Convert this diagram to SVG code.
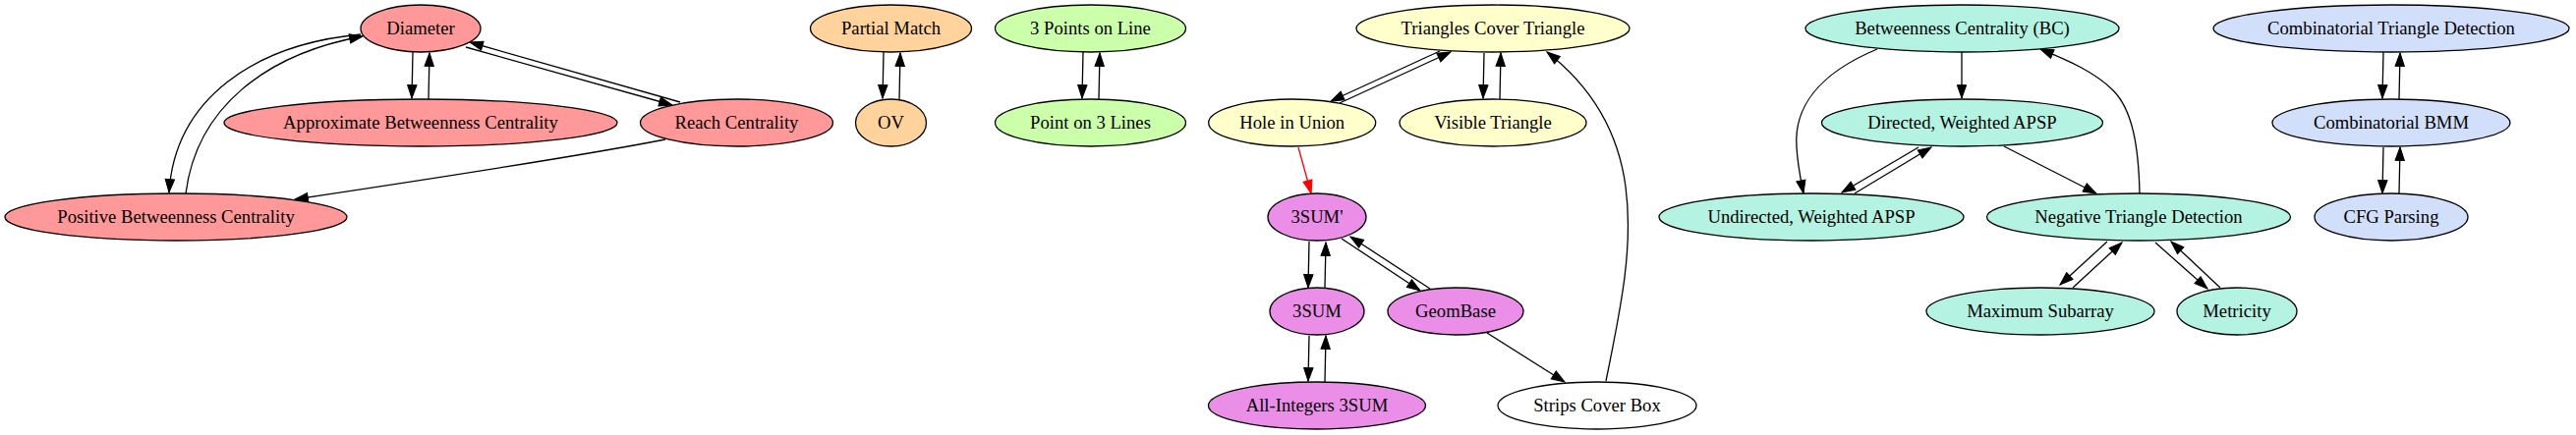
<svg xmlns="http://www.w3.org/2000/svg" width="2621" height="443" viewBox="0 0 2621 443">
<defs>
<marker id="ah" markerUnits="userSpaceOnUse" viewBox="-1 -1 15.33 11.33" markerWidth="15.33" markerHeight="11.33" refX="13.33" refY="4.67" orient="auto">
<polygon points="0,0 13.33,4.67 0,9.33" fill="#000" stroke="#000" stroke-width="1"/>
</marker>
<marker id="ahr" markerUnits="userSpaceOnUse" viewBox="-1 -1 15.33 11.33" markerWidth="15.33" markerHeight="11.33" refX="13.33" refY="4.67" orient="auto">
<polygon points="0,0 13.33,4.67 0,9.33" fill="#ff0000" stroke="#ff0000" stroke-width="1"/>
</marker>
</defs>
<style>
ellipse{stroke:#000;stroke-width:1.3}
text{font-family:"Liberation Serif","Times New Roman",serif;font-size:18.67px;text-anchor:middle;fill:#000}
.e{fill:none;stroke:#000;stroke-width:1.3;marker-end:url(#ah)}
.er{fill:none;stroke:#ff0000;stroke-width:1.3;marker-end:url(#ahr)}
.red{fill:#ff9999}.org{fill:#ffd39b}.grn{fill:#ccffaa}.yel{fill:#ffffcc}.vio{fill:#ea8ee8}.tea{fill:#b4f2e2}.blu{fill:#d2dffa}.wht{fill:#fff}
</style>
<rect width="2621" height="443" fill="#fff"/>
<g id="edges">
<path class="e" d="M420,53 L419,100"/>
<path class="e" d="M436,101 L437,54"/>
<path class="e" d="M474,48 L684,107"/>
<path class="e" d="M692,104 L478,43"/>
<path class="e" d="M367,35 C260,45 178,100 172,196"/>
<path class="e" d="M189,197 C200,110 270,55 369,37"/>
<path class="e" d="M677,142 C600,157 420,185 300,203"/>
<path class="e" d="M899,53 L898,100"/>
<path class="e" d="M915,101 L916,54"/>
<path class="e" d="M1102,53 L1101,100"/>
<path class="e" d="M1118,101 L1119,54"/>
<path class="e" d="M1465,52 L1354,103"/>
<path class="e" d="M1363,105 L1476,53"/>
<path class="e" d="M1510,54 L1509,100"/>
<path class="e" d="M1526,101 L1527,54"/>
<path class="er" d="M1321,150 L1334,197"/>
<path class="e" d="M1332,246 L1331,293"/>
<path class="e" d="M1348,293 L1349,247"/>
<path class="e" d="M1365,243 L1445,296"/>
<path class="e" d="M1455,294 L1374,241"/>
<path class="e" d="M1332,342 L1331,388"/>
<path class="e" d="M1348,389 L1349,342"/>
<path class="e" d="M1513,339 L1592,389"/>
<path class="e" d="M1634,388 C1650,310 1662,250 1654,190 C1646,130 1615,85 1574,53"/>
<path class="e" d="M1910,50 C1850,75 1825,110 1828,150 C1829,168 1832,182 1835,197"/>
<path class="e" d="M1996,53 L1996,100"/>
<path class="e" d="M1952,150 L1874,196"/>
<path class="e" d="M1887,197 L1965,150"/>
<path class="e" d="M2039,149 L2133,197"/>
<path class="e" d="M2177,197 C2176,150 2170,112 2150,92 C2130,72 2100,60 2076,50"/>
<path class="e" d="M2144,246 L2096,290"/>
<path class="e" d="M2109,293 L2159,247"/>
<path class="e" d="M2193,247 L2246,294"/>
<path class="e" d="M2259,293 L2209,246"/>
<path class="e" d="M2425,53 L2424,100"/>
<path class="e" d="M2441,101 L2442,54"/>
<path class="e" d="M2425,150 L2424,197"/>
<path class="e" d="M2441,197 L2442,150"/>
</g>
<g id="n_diameter"><ellipse class="red" cx="428" cy="29" rx="61" ry="24"/><text x="428" y="35">Diameter</text></g>
<g id="n_approxbc"><ellipse class="red" cx="428" cy="125" rx="200" ry="24"/><text x="428" y="131">Approximate Betweenness Centrality</text></g>
<g id="n_reach"><ellipse class="red" cx="749.5" cy="125" rx="98" ry="24"/><text x="749.5" y="131">Reach Centrality</text></g>
<g id="n_posbc"><ellipse class="red" cx="179" cy="221" rx="174" ry="24"/><text x="179" y="227">Positive Betweenness Centrality</text></g>
<g id="n_partial"><ellipse class="org" cx="906.5" cy="29" rx="82" ry="24"/><text x="906.5" y="35">Partial Match</text></g>
<g id="n_ov"><ellipse class="org" cx="906.5" cy="125" rx="36" ry="24"/><text x="906.5" y="131">OV</text></g>
<g id="n_3pol"><ellipse class="grn" cx="1109.5" cy="29" rx="97" ry="24"/><text x="1109.5" y="35">3 Points on Line</text></g>
<g id="n_po3l"><ellipse class="grn" cx="1109.5" cy="125" rx="97" ry="24"/><text x="1109.5" y="131">Point on 3 Lines</text></g>
<g id="n_tct"><ellipse class="yel" cx="1519" cy="29" rx="139" ry="24"/><text x="1519" y="35">Triangles Cover Triangle</text></g>
<g id="n_hiu"><ellipse class="yel" cx="1314.7" cy="125" rx="85" ry="24"/><text x="1314.7" y="131">Hole in Union</text></g>
<g id="n_vt"><ellipse class="yel" cx="1519" cy="125" rx="95" ry="24"/><text x="1519" y="131">Visible Triangle</text></g>
<g id="n_3sump"><ellipse class="vio" cx="1340" cy="221" rx="50" ry="24"/><text x="1340" y="227">3SUM'</text></g>
<g id="n_3sum"><ellipse class="vio" cx="1340" cy="317" rx="48" ry="24"/><text x="1340" y="323">3SUM</text></g>
<g id="n_geom"><ellipse class="vio" cx="1481" cy="317" rx="69" ry="24"/><text x="1481" y="323">GeomBase</text></g>
<g id="n_allint"><ellipse class="vio" cx="1340" cy="413" rx="110.5" ry="24"/><text x="1340" y="419">All-Integers 3SUM</text></g>
<g id="n_strips"><ellipse class="wht" cx="1625" cy="413" rx="101" ry="24"/><text x="1625" y="419">Strips Cover Box</text></g>
<g id="n_bc"><ellipse class="tea" cx="1996.5" cy="29" rx="159.5" ry="24"/><text x="1996.5" y="35">Betweenness Centrality (BC)</text></g>
<g id="n_dir"><ellipse class="tea" cx="1996.5" cy="125" rx="143" ry="24"/><text x="1996.5" y="131">Directed, Weighted APSP</text></g>
<g id="n_undir"><ellipse class="tea" cx="1843" cy="221" rx="155" ry="24"/><text x="1843" y="227">Undirected, Weighted APSP</text></g>
<g id="n_ntd"><ellipse class="tea" cx="2176" cy="221" rx="154.5" ry="24"/><text x="2176" y="227">Negative Triangle Detection</text></g>
<g id="n_maxsub"><ellipse class="tea" cx="2076" cy="317" rx="116" ry="24"/><text x="2076" y="323">Maximum Subarray</text></g>
<g id="n_metric"><ellipse class="tea" cx="2276" cy="317" rx="61" ry="24"/><text x="2276" y="323">Metricity</text></g>
<g id="n_ctd"><ellipse class="blu" cx="2433" cy="29" rx="181" ry="24"/><text x="2433" y="35">Combinatorial Triangle Detection</text></g>
<g id="n_bmm"><ellipse class="blu" cx="2433" cy="125" rx="121" ry="24"/><text x="2433" y="131">Combinatorial BMM</text></g>
<g id="n_cfg"><ellipse class="blu" cx="2433" cy="221" rx="78" ry="24"/><text x="2433" y="227">CFG Parsing</text></g>
</svg>
